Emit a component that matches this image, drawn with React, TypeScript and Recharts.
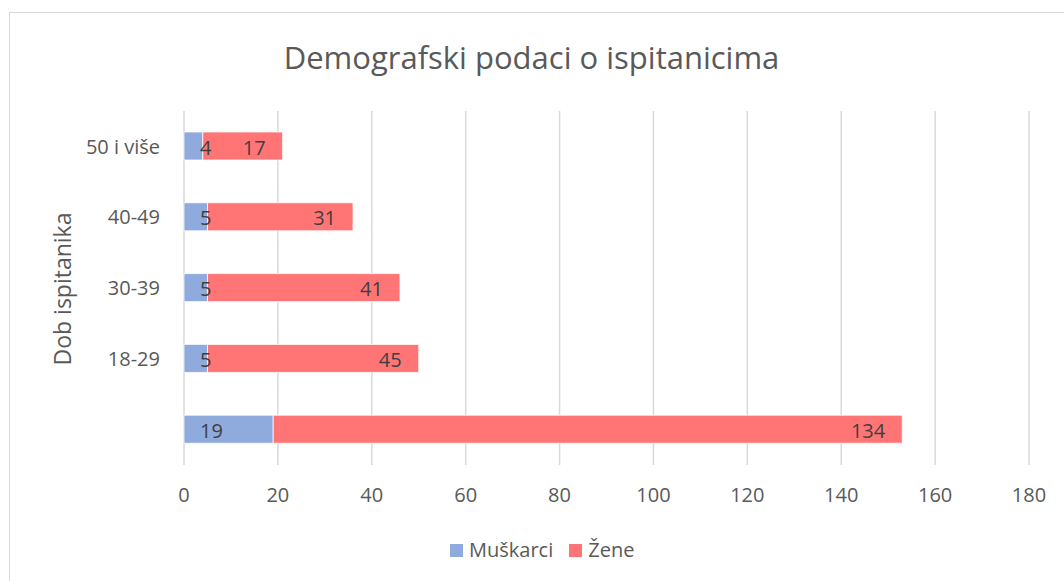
import { BarChart, Bar, XAxis, YAxis, CartesianGrid, LabelList } from "recharts"

const ageGroups = ["50 i više", "40-49", "30-39", "18-29", ""]
const muskarci = [4, 5, 5, 5, 19]
const zene = [17, 31, 41, 45, 134]
const xTicks = [0, 20, 40, 60, 80, 100, 120, 140, 160, 180]

const data = ageGroups.map((age, i) => ({ age, muskarci: muskarci[i], zene: zene[i] }))

const BLUE = "#8FAADC"
const RED = "#FF7575"
const TEXT = "#595959"
const FONT = '"Open Sans", sans-serif'

const blueLabel = (p: any) => (
  <text
    x={p.x + 16} y={p.y + p.height / 2 + 1} textAnchor="start"
    dominantBaseline="central" fill="#404040" fontSize={20} fontFamily={FONT}
  >
    {p.value}
  </text>
)

const redLabel = (p: any) => (
  <text
    x={p.x + p.width - 17} y={p.y + p.height / 2 + 1} textAnchor="end"
    dominantBaseline="central" fill="#404040" fontSize={20} fontFamily={FONT}
  >
    {p.value}
  </text>
)

const axisTitle = () => (
  <text
    x={62} y={289} transform="rotate(-90 62 289)" textAnchor="middle"
    dominantBaseline="central" fill={TEXT} fontSize={23} fontFamily={FONT}
  >
    Dob ispitanika
  </text>
)

function LegendItem({ color, label }: { color: string; label: string }) {
  return (
    <span style={{ display: "inline-flex", alignItems: "center", marginRight: 16 }}>
      <span style={{ width: 13, height: 13, background: color, display: "inline-block", marginRight: 6 }} />
      <span>{label}</span>
    </span>
  )
}

export default function App() {
  return (
    <div
      style={{
        position: "absolute", left: 0, top: 0, width: 1064, height: 581,
        background: "#fff", overflow: "hidden", fontFamily: FONT, color: TEXT,
      }}
    >
      <div
        style={{
          position: "absolute", left: 9, top: 12, width: 1100, height: 620,
          border: "1px solid #d9d9d9",
        }}
      />
      <div
        style={{
          position: "absolute", left: 0, width: 1063, top: 35, textAlign: "center",
          fontSize: 31, lineHeight: "44px",
        }}
      >
        Demografski podaci o ispitanicima
      </div>
      <div style={{ position: "absolute", left: 0, top: 0 }}>
        <BarChart
          width={1064} height={581} data={data} layout="vertical"
          margin={{ top: 111, right: 35, left: 0, bottom: 0 }}
        >
          <CartesianGrid horizontal={false} stroke="#d9d9d9" strokeWidth={1.5} />
          <XAxis
            type="number" domain={[0, 180]} ticks={xTicks} interval={0}
            axisLine={false} tickLine={false} tickSize={0} tickMargin={23} height={116}
            tick={{ fill: TEXT, fontSize: 20, fontFamily: FONT }}
          />
          <YAxis
            type="category" dataKey="age" width={184}
            axisLine={false} tickLine={false} tickSize={0} tickMargin={24}
            tick={{ fill: TEXT, fontSize: 20, fontFamily: FONT }}
            label={{ content: axisTitle }}
          />
          <Bar dataKey="muskarci" stackId="a" fill={BLUE} barSize={28}
            stroke="#ffffff" strokeWidth={0.75} isAnimationActive={false}>
            <LabelList dataKey="muskarci" content={blueLabel} />
          </Bar>
          <Bar dataKey="zene" stackId="a" fill={RED} barSize={28}
            stroke="#ffffff" strokeWidth={0.75} isAnimationActive={false}>
            <LabelList dataKey="zene" content={redLabel} />
          </Bar>
        </BarChart>
      </div>
      <div
        style={{
          position: "absolute", left: 450, top: 537, fontSize: 20, lineHeight: "26px",
          display: "flex", whiteSpace: "nowrap",
        }}
      >
        <LegendItem color={BLUE} label="Muškarci" />
        <LegendItem color={RED} label="Žene" />
      </div>
    </div>
  )
}
